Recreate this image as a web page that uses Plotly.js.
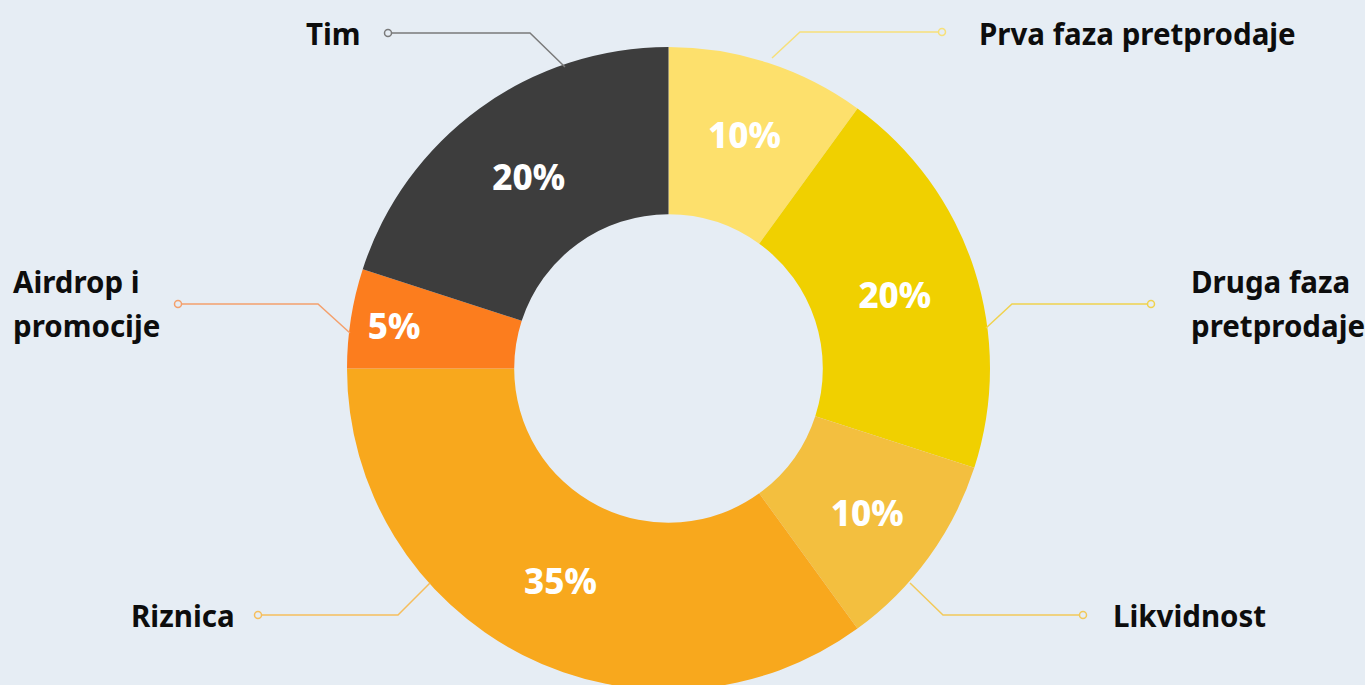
<!DOCTYPE html>
<html>
<head>
<meta charset="utf-8">
<script src="https://cdn.plot.ly/plotly-3.0.1.min.js"></script>
<style>
html,body{margin:0;padding:0;background:#E6EDF4;overflow:hidden;width:1365px;height:685px;}
#chart{width:1365px;height:700px;}
</style>
</head>
<body>
<div id="chart"></div>
<script>
// Data
const categories = ["Prva faza pretprodaje", "Druga faza pretprodaje", "Likvidnost", "Riznica", "Airdrop i promocije", "Tim"];
const shares = [10, 20, 10, 35, 5, 20];
const sliceColors = ["#FDE06C", "#F0D000", "#F3BF3F", "#F8A81D", "#FC7D1E", "#3D3D3D"];
const labelLines = [["Prva faza pretprodaje"], ["Druga faza", "pretprodaje"], ["Likvidnost"], ["Riznica"], ["Airdrop i", "promocije"], ["Tim"]];
const connectorColors = ["#F7E07A", "#F0D24E", "#F2C95A", "#F6BE5C", "#F4A06C", "#7A7A7A"];

const W = 1365, H = 700;
const px = x => x / W;
const py = y => 1 - y / H;

// Connector layout (pixel positions of decoration)
const connectors = [
  {pts: [[772,58],[800,32],[942,32]], dot: [942,32], text: {x:977, y:33, anchor:'left'}},
  {pts: [[986,328],[1012,304],[1151,304]], dot: [1151,304], text: {x:1189, y:281, anchor:'left', dy:44}},
  {pts: [[910,583],[943,615],[1083,615]], dot: [1083,615], text: {x:1111, y:615, anchor:'left'}},
  {pts: [[430,583],[398,615],[258,615]], dot: [258,615], text: {x:237, y:615, anchor:'right'}},
  {pts: [[350,333],[318,304],[178,304]], dot: [178,304], text: {x:11, y:281, anchor:'left', dy:44}},
  {pts: [[565,67],[530,33],[390,33]], dot: [388,33], text: {x:363, y:33, anchor:'right'}}
];

const shapes = [];
const annotations = [];
connectors.forEach((c, i) => {
  const path = c.pts.map((p, k) => (k ? 'L' : 'M') + px(p[0]) + ',' + py(p[1])).join(' ');
  shapes.push({type:'path', xref:'paper', yref:'paper', path: path, line:{color: connectorColors[i], width:1.5}});
  const r = 3.5;
  shapes.push({type:'circle', xref:'paper', yref:'paper',
    x0: px(c.dot[0]-r), x1: px(c.dot[0]+r), y0: py(c.dot[1]+r), y1: py(c.dot[1]-r),
    fillcolor:'#E6EDF4', line:{color: connectorColors[i], width:1.5}});
  labelLines[i].forEach((t, j) => {
    annotations.push({text: t, xref:'paper', yref:'paper', x: px(c.text.x), y: py(c.text.y + j*(c.text.dy||0)),
      xanchor: c.text.anchor, yanchor:'middle', showarrow:false,
      font:{family:'"Noto Sans", "Open Sans", sans-serif', size:29.5, color:'#0D0D0D', weight:700}});
  });
});

const data = [{
  type:'pie',
  labels: categories,
  values: shares,
  marker:{colors: sliceColors, line:{width:0}},
  hole: 0.48,
  sort:false,
  direction:'clockwise',
  rotation:0,
  textinfo:'percent',
  textposition:'inside',
  insidetextorientation:'horizontal',
  insidetextfont:{family:'"Noto Sans", "Open Sans", sans-serif', size:35, color:'#FFFFFF', weight:800},
  showlegend:false,
  hoverinfo:'label+percent',
  domain:{x:[px(347), px(990)], y:[py(690), py(47)]}
}];

const layout = {
  width: W, height: H,
  margin:{l:0,r:0,t:0,b:0},
  paper_bgcolor:'#E6EDF4',
  plot_bgcolor:'#E6EDF4',
  showlegend:false,
  shapes: shapes,
  annotations: annotations
};

Plotly.newPlot('chart', data, layout, {displayModeBar:false, staticPlot:true});
</script>
</body>
</html>
